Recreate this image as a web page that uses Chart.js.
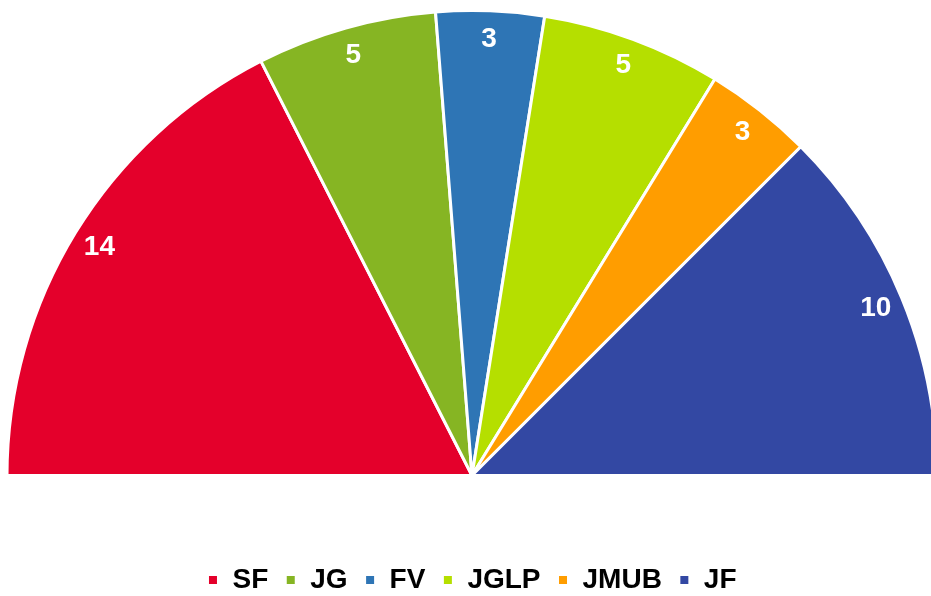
<!DOCTYPE html>
<html>
<head>
<meta charset="utf-8">
<script src="https://cdn.jsdelivr.net/npm/chart.js@4"></script>
<style>
    html, body { margin: 0; padding: 0; background: #fff; }
    canvas { display: block; }
</style>
</head>
<body>
<canvas id="seatChart" width="931" height="596"></canvas>
<script>
// seats per group
const parties = ['SF', 'JG', 'FV', 'JGLP', 'JMUB', 'JF'];
const seats = [14, 5, 3, 5, 3, 10];
const partyColors = ['#e4002b', '#86b523', '#2e75b5', '#b5df00', '#ff9d00', '#3348a3'];

// white numbers near the outer edge of each slice
const seatLabels = {
    id: 'seatLabels',
    afterDatasetsDraw: function(chart) {
        var ctx = chart.ctx;
        var meta = chart.getDatasetMeta(0);
        ctx.save();
        ctx.fillStyle = '#ffffff';
        ctx.font = 'bold 28px "Liberation Sans", Arial, sans-serif';
        ctx.textAlign = 'center';
        ctx.textBaseline = 'middle';
        meta.data.forEach(function(arc, i) {
            var p = arc.getProps(['x', 'y', 'startAngle', 'endAngle', 'outerRadius'], true);
            var mid = (p.startAngle + p.endAngle) / 2;
            var r = p.outerRadius - 28;
            ctx.fillText(String(seats[i]), p.x + Math.cos(mid) * r, p.y + Math.sin(mid) * r);
        });
        ctx.restore();
    }
};

var ctx = document.getElementById('seatChart').getContext('2d');
var seatChart = new Chart(ctx, {
    type: 'doughnut',
    data: {
        labels: parties,
        datasets: [{
            data: seats,
            backgroundColor: partyColors,
            borderColor: '#ffffff',
            borderWidth: 3
        }]
    },
    options: {
        responsive: false,
        animation: false,
        rotation: -90,
        circumference: 180,
        cutout: 0,
        radius: 465,
        layout: {
            padding: { top: 0, bottom: -8, left: 13, right: 0 }
        },
        plugins: {
            legend: {
                position: 'bottom',
                // empty title only reserves room above the legend row
                title: {
                    display: true,
                    text: ' ',
                    font: { size: 10, lineHeight: 1.2 },
                    padding: { top: 0, bottom: 51 }
                },
                labels: {
                    usePointStyle: true,
                    pointStyle: 'rect',
                    boxWidth: 11,
                    boxHeight: 11,
                    padding: 17,
                    color: '#000000',
                    font: { family: '"Liberation Sans", Arial, sans-serif', size: 28, weight: 'bold' }
                }
            },
            tooltip: { enabled: false }
        }
    },
    plugins: [seatLabels]
});
</script>
</body>
</html>
